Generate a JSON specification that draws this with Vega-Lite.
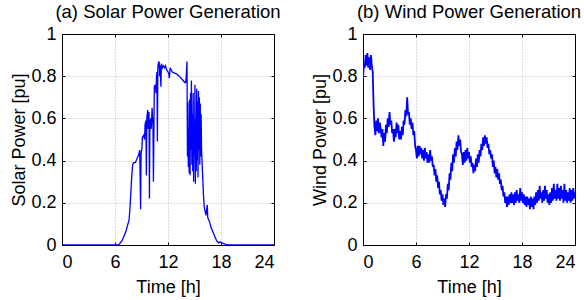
{
  "$schema": "https://vega.github.io/schema/vega-lite/v6.json",
  "background": "white",
  "padding": {"left": 10, "top": 2, "right": 0, "bottom": 0},
  "spacing": 89,
  "bounds": "flush",
  "datasets": {
    "solar": [
      {"t":0,"v":0},{"t":6.3,"v":0},{"t":6.5,"v":0.005},{"t":6.8,"v":0.02},{"t":7.0,"v":0.04},{"t":7.2,"v":0.06},{"t":7.4,"v":0.09},{"t":7.6,"v":0.12},{"t":7.7,"v":0.18},{"t":7.8,"v":0.25},{"t":7.9,"v":0.33},{"t":8.0,"v":0.38},{"t":8.1,"v":0.39},{"t":8.3,"v":0.39},{"t":8.5,"v":0.41},{"t":8.7,"v":0.43},{"t":8.8,"v":0.45},{"t":8.9,"v":0.17},{"t":8.95,"v":0.43},{"t":9.05,"v":0.46},{"t":9.1,"v":0.51},{"t":9.25,"v":0.52},{"t":9.35,"v":0.5},{"t":9.4,"v":0.57},{"t":9.5,"v":0.59},{"t":9.55,"v":0.33},{"t":9.6,"v":0.6},{"t":9.7,"v":0.64},{"t":9.75,"v":0.55},{"t":9.85,"v":0.63},{"t":9.9,"v":0.22},{"t":9.95,"v":0.58},{"t":10.05,"v":0.6},{"t":10.1,"v":0.55},{"t":10.2,"v":0.65},{"t":10.3,"v":0.56},{"t":10.35,"v":0.3},{"t":10.45,"v":0.75},{"t":10.55,"v":0.76},{"t":10.65,"v":0.72},{"t":10.7,"v":0.8},{"t":10.75,"v":0.82},{"t":10.8,"v":0.49},{"t":10.85,"v":0.84},{"t":10.9,"v":0.86},{"t":11.0,"v":0.87},{"t":11.05,"v":0.8},{"t":11.1,"v":0.85},{"t":11.2,"v":0.75},{"t":11.25,"v":0.86},{"t":11.35,"v":0.84},{"t":11.45,"v":0.85},{"t":11.6,"v":0.84},{"t":11.7,"v":0.85},{"t":11.85,"v":0.83},{"t":12.0,"v":0.82},{"t":12.1,"v":0.81},{"t":12.15,"v":0.79},{"t":12.25,"v":0.84},{"t":12.35,"v":0.83},{"t":12.5,"v":0.82},{"t":13.0,"v":0.81},{"t":13.5,"v":0.79},{"t":13.9,"v":0.77},{"t":14.0,"v":0.77},{"t":14.05,"v":0.79},{"t":14.15,"v":0.87},{"t":14.2,"v":0.42},{"t":14.25,"v":0.68},{"t":14.3,"v":0.37},{"t":14.35,"v":0.55},{"t":14.4,"v":0.34},{"t":14.45,"v":0.69},{"t":14.5,"v":0.33},{"t":14.55,"v":0.72},{"t":14.6,"v":0.45},{"t":14.65,"v":0.78},{"t":14.7,"v":0.38},{"t":14.75,"v":0.62},{"t":14.8,"v":0.35},{"t":14.85,"v":0.72},{"t":14.9,"v":0.3},{"t":14.95,"v":0.58},{"t":15.0,"v":0.42},{"t":15.05,"v":0.76},{"t":15.1,"v":0.29},{"t":15.15,"v":0.6},{"t":15.2,"v":0.35},{"t":15.25,"v":0.74},{"t":15.3,"v":0.4},{"t":15.35,"v":0.68},{"t":15.4,"v":0.32},{"t":15.45,"v":0.73},{"t":15.5,"v":0.45},{"t":15.55,"v":0.7},{"t":15.6,"v":0.38},{"t":15.65,"v":0.67},{"t":15.7,"v":0.42},{"t":15.75,"v":0.62},{"t":15.8,"v":0.45},{"t":15.9,"v":0.35},{"t":16.0,"v":0.25},{"t":16.1,"v":0.18},{"t":16.2,"v":0.16},{"t":16.3,"v":0.14},{"t":16.35,"v":0.16},{"t":16.45,"v":0.19},{"t":16.5,"v":0.13},{"t":16.7,"v":0.11},{"t":16.9,"v":0.08},{"t":17.1,"v":0.06},{"t":17.3,"v":0.04},{"t":17.5,"v":0.02},{"t":17.7,"v":0.01},{"t":17.9,"v":0.015},{"t":18.1,"v":0.01},{"t":18.4,"v":0.005},{"t":18.8,"v":0},{"t":24,"v":0}
    ],
    "wind": [
      {"t":0.0,"v":0.79},{"t":0.1,"v":0.86},{"t":0.2,"v":0.84},{"t":0.3,"v":0.90},{"t":0.4,"v":0.85},{"t":0.5,"v":0.91},{"t":0.6,"v":0.84},{"t":0.7,"v":0.89},{"t":0.8,"v":0.83},{"t":0.9,"v":0.90},
      {"t":1.0,"v":0.85},{"t":1.1,"v":0.82},{"t":1.2,"v":0.66},{"t":1.3,"v":0.56},{"t":1.4,"v":0.52},{"t":1.5,"v":0.59},{"t":1.6,"v":0.54},{"t":1.7,"v":0.60},{"t":1.8,"v":0.53},{"t":1.9,"v":0.58},
      {"t":2.0,"v":0.55},{"t":2.1,"v":0.51},{"t":2.2,"v":0.55},{"t":2.3,"v":0.47},{"t":2.4,"v":0.53},{"t":2.5,"v":0.49},{"t":2.6,"v":0.57},{"t":2.7,"v":0.53},{"t":2.8,"v":0.60},{"t":2.9,"v":0.56},
      {"t":3.0,"v":0.63},{"t":3.1,"v":0.57},{"t":3.2,"v":0.59},{"t":3.3,"v":0.53},{"t":3.4,"v":0.55},{"t":3.5,"v":0.49},{"t":3.6,"v":0.55},{"t":3.7,"v":0.51},{"t":3.8,"v":0.58},{"t":3.9,"v":0.53},
      {"t":4.0,"v":0.57},{"t":4.1,"v":0.50},{"t":4.2,"v":0.54},{"t":4.3,"v":0.50},{"t":4.4,"v":0.56},{"t":4.5,"v":0.52},{"t":4.6,"v":0.59},{"t":4.7,"v":0.57},{"t":4.8,"v":0.64},{"t":4.9,"v":0.61},
      {"t":5.0,"v":0.70},{"t":5.1,"v":0.62},{"t":5.2,"v":0.63},{"t":5.3,"v":0.57},{"t":5.4,"v":0.60},{"t":5.5,"v":0.55},{"t":5.6,"v":0.58},{"t":5.7,"v":0.52},{"t":5.8,"v":0.54},{"t":5.9,"v":0.47},
      {"t":6.0,"v":0.45},{"t":6.1,"v":0.41},{"t":6.2,"v":0.47},{"t":6.3,"v":0.42},{"t":6.4,"v":0.47},{"t":6.5,"v":0.43},{"t":6.6,"v":0.46},{"t":6.7,"v":0.41},{"t":6.8,"v":0.45},{"t":6.9,"v":0.40},
      {"t":7.0,"v":0.46},{"t":7.1,"v":0.41},{"t":7.2,"v":0.44},{"t":7.3,"v":0.39},{"t":7.4,"v":0.43},{"t":7.5,"v":0.39},{"t":7.6,"v":0.45},{"t":7.7,"v":0.40},{"t":7.8,"v":0.42},{"t":7.9,"v":0.37},
      {"t":8.0,"v":0.38},{"t":8.1,"v":0.33},{"t":8.2,"v":0.36},{"t":8.3,"v":0.30},{"t":8.4,"v":0.33},{"t":8.5,"v":0.27},{"t":8.6,"v":0.30},{"t":8.7,"v":0.24},{"t":8.8,"v":0.26},{"t":8.9,"v":0.21},
      {"t":9.0,"v":0.24},{"t":9.1,"v":0.19},{"t":9.2,"v":0.22},{"t":9.3,"v":0.18},{"t":9.4,"v":0.24},{"t":9.5,"v":0.22},{"t":9.6,"v":0.29},{"t":9.7,"v":0.26},{"t":9.8,"v":0.34},{"t":9.9,"v":0.31},
      {"t":10.0,"v":0.39},{"t":10.1,"v":0.35},{"t":10.2,"v":0.43},{"t":10.3,"v":0.39},{"t":10.4,"v":0.46},{"t":10.5,"v":0.42},{"t":10.6,"v":0.49},{"t":10.7,"v":0.45},{"t":10.8,"v":0.52},{"t":10.9,"v":0.47},
      {"t":11.0,"v":0.50},{"t":11.1,"v":0.44},{"t":11.2,"v":0.43},{"t":11.3,"v":0.38},{"t":11.4,"v":0.44},{"t":11.5,"v":0.39},{"t":11.6,"v":0.45},{"t":11.7,"v":0.40},{"t":11.8,"v":0.46},{"t":11.9,"v":0.41},
      {"t":12.0,"v":0.44},{"t":12.1,"v":0.39},{"t":12.2,"v":0.42},{"t":12.3,"v":0.37},{"t":12.4,"v":0.39},{"t":12.5,"v":0.34},{"t":12.6,"v":0.38},{"t":12.7,"v":0.35},{"t":12.8,"v":0.41},{"t":12.9,"v":0.37},
      {"t":13.0,"v":0.43},{"t":13.1,"v":0.39},{"t":13.2,"v":0.45},{"t":13.3,"v":0.42},{"t":13.4,"v":0.48},{"t":13.5,"v":0.45},{"t":13.6,"v":0.51},{"t":13.7,"v":0.47},{"t":13.8,"v":0.52},{"t":13.9,"v":0.48},
      {"t":14.0,"v":0.51},{"t":14.1,"v":0.46},{"t":14.2,"v":0.48},{"t":14.3,"v":0.43},{"t":14.4,"v":0.45},{"t":14.5,"v":0.41},{"t":14.6,"v":0.43},{"t":14.7,"v":0.37},{"t":14.8,"v":0.40},{"t":14.9,"v":0.34},
      {"t":15.0,"v":0.37},{"t":15.1,"v":0.32},{"t":15.2,"v":0.36},{"t":15.3,"v":0.31},{"t":15.4,"v":0.34},{"t":15.5,"v":0.29},{"t":15.6,"v":0.31},{"t":15.7,"v":0.26},{"t":15.8,"v":0.28},{"t":15.9,"v":0.23},
      {"t":16.0,"v":0.25},{"t":16.1,"v":0.20},{"t":16.2,"v":0.23},{"t":16.3,"v":0.18},{"t":16.4,"v":0.23},{"t":16.5,"v":0.19},{"t":16.6,"v":0.24},{"t":16.7,"v":0.20},{"t":16.8,"v":0.25},{"t":16.9,"v":0.20},
      {"t":17.0,"v":0.24},{"t":17.1,"v":0.19},{"t":17.2,"v":0.25},{"t":17.3,"v":0.20},{"t":17.4,"v":0.26},{"t":17.5,"v":0.21},{"t":17.6,"v":0.24},{"t":17.7,"v":0.20},{"t":17.8,"v":0.27},{"t":17.9,"v":0.21},
      {"t":18.0,"v":0.25},{"t":18.1,"v":0.20},{"t":18.2,"v":0.24},{"t":18.3,"v":0.19},{"t":18.4,"v":0.23},{"t":18.5,"v":0.18},{"t":18.6,"v":0.23},{"t":18.7,"v":0.19},{"t":18.8,"v":0.22},{"t":18.9,"v":0.17},
      {"t":19.0,"v":0.23},{"t":19.1,"v":0.18},{"t":19.2,"v":0.22},{"t":19.3,"v":0.17},{"t":19.4,"v":0.23},{"t":19.5,"v":0.19},{"t":19.6,"v":0.25},{"t":19.7,"v":0.20},{"t":19.8,"v":0.26},{"t":19.9,"v":0.21},
      {"t":20.0,"v":0.28},{"t":20.1,"v":0.22},{"t":20.2,"v":0.25},{"t":20.3,"v":0.20},{"t":20.4,"v":0.26},{"t":20.5,"v":0.21},{"t":20.6,"v":0.28},{"t":20.7,"v":0.22},{"t":20.8,"v":0.26},{"t":20.9,"v":0.20},
      {"t":21.0,"v":0.24},{"t":21.1,"v":0.19},{"t":21.2,"v":0.25},{"t":21.3,"v":0.20},{"t":21.4,"v":0.27},{"t":21.5,"v":0.21},{"t":21.6,"v":0.29},{"t":21.7,"v":0.22},{"t":21.8,"v":0.26},{"t":21.9,"v":0.21},
      {"t":22.0,"v":0.29},{"t":22.1,"v":0.22},{"t":22.2,"v":0.27},{"t":22.3,"v":0.21},{"t":22.4,"v":0.28},{"t":22.5,"v":0.22},{"t":22.6,"v":0.26},{"t":22.7,"v":0.20},{"t":22.8,"v":0.29},{"t":22.9,"v":0.21},
      {"t":23.0,"v":0.26},{"t":23.1,"v":0.20},{"t":23.2,"v":0.25},{"t":23.3,"v":0.21},{"t":23.4,"v":0.27},{"t":23.5,"v":0.20},{"t":23.6,"v":0.26},{"t":23.7,"v":0.21},{"t":23.8,"v":0.27},{"t":23.9,"v":0.22},
      {"t":24.0,"v":0.25}
    ]
  },
  "config": {
    "font": "Liberation Sans",
    "view": {"stroke": "black", "strokeWidth": 1},
    "axis": {
      "domainColor": "black",
      "tickColor": "black",
      "tickSize": -3,
      "labelColor": "black",
      "labelFontSize": 18,
      "labelFont": "Liberation Sans",
      "titleFont": "Liberation Sans",
      "titleFontSize": 18,
      "titleFontWeight": "normal",
      "titleColor": "black",
      "gridColor": "#b8b8b8",
      "gridDash": [1, 2],
      "gridOpacity": 1
    },
    "title": {"font": "Liberation Sans", "fontSize": 18.5, "fontWeight": "normal", "color": "black", "offset": 0}
  },
  "hconcat": [
    {
      "width": 212, "height": 211,
      "title": "(a) Solar Power Generation",
      "data": {"name": "solar"},
      "layer": [
        {
          "mark": {"type": "line", "color": "#0000ff", "strokeWidth": 1.3, "clip": true},
          "encoding": {
            "x": {"field": "t", "type": "quantitative", "scale": {"domain": [0, 24], "nice": false}, "axis": {"values": [0, 6, 12, 18, 24], "format": "d", "title": "Time [h]", "labelPadding": 11, "titlePadding": 7}},
            "y": {"field": "v", "type": "quantitative", "scale": {"domain": [0, 1], "nice": false}, "axis": {"values": [0, 0.2, 0.4, 0.6, 0.8, 1], "format": "~g", "title": "Solar Power [pu]", "labelPadding": 9, "titlePadding": 2}}
          }
        },
        {
          "mark": {"type": "line", "opacity": 0},
          "encoding": {
            "x": {"field": "t", "type": "quantitative", "axis": {"orient": "top", "values": [0, 6, 12, 18, 24], "labels": false, "title": null, "grid": false}},
            "y": {"field": "v", "type": "quantitative", "axis": {"orient": "right", "values": [0, 0.2, 0.4, 0.6, 0.8, 1], "labels": false, "title": null, "grid": false}}
          }
        }
      ],
      "resolve": {"axis": {"x": "independent", "y": "independent"}}
    },
    {
      "width": 212, "height": 211,
      "title": "(b) Wind Power Generation",
      "data": {"name": "wind"},
      "layer": [
        {
          "mark": {"type": "line", "color": "#0000ff", "strokeWidth": 1.8, "clip": true},
          "encoding": {
            "x": {"field": "t", "type": "quantitative", "scale": {"domain": [0, 24], "nice": false}, "axis": {"values": [0, 6, 12, 18, 24], "format": "d", "title": "Time [h]", "labelPadding": 11, "titlePadding": 7}},
            "y": {"field": "v", "type": "quantitative", "scale": {"domain": [0, 1], "nice": false}, "axis": {"values": [0, 0.2, 0.4, 0.6, 0.8, 1], "format": "~g", "title": "Wind Power [pu]", "labelPadding": 9, "titlePadding": 2}}
          }
        },
        {
          "mark": {"type": "line", "opacity": 0},
          "encoding": {
            "x": {"field": "t", "type": "quantitative", "axis": {"orient": "top", "values": [0, 6, 12, 18, 24], "labels": false, "title": null, "grid": false}},
            "y": {"field": "v", "type": "quantitative", "axis": {"orient": "right", "values": [0, 0.2, 0.4, 0.6, 0.8, 1], "labels": false, "title": null, "grid": false}}
          }
        }
      ],
      "resolve": {"axis": {"x": "independent", "y": "independent"}}
    }
  ]
}
